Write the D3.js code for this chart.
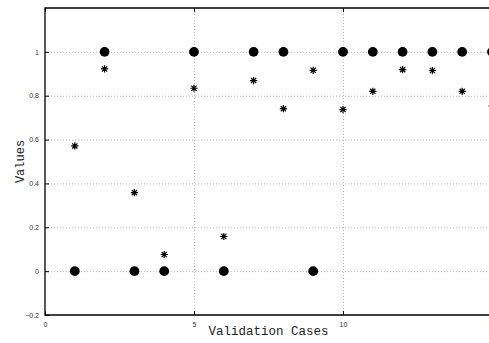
<!DOCTYPE html>
<html>
<head>
<meta charset="utf-8">
<script src="https://cdn.jsdelivr.net/npm/d3@7.9.0/dist/d3.min.js"></script>
<style>
  html, body { margin: 0; padding: 0; background: #fff; overflow: hidden; }
  svg { display: block; }
  .tick text { font-family: "Liberation Sans", Arial, sans-serif; font-size: 7px; fill: #333; }
  .lbl { font-family: "Liberation Mono", "DejaVu Sans Mono", monospace; fill: #222; }
</style>
</head>
<body>
<div id="chart"></div>
<script>
const cases = [1, 2, 3, 4, 5, 6, 7, 8, 9, 10, 11, 12, 13, 14, 15];
const actual = [0, 1, 0, 0, 1, 0, 1, 1, 0, 1, 1, 1, 1, 1, 1];
const predicted = [0.571, 0.922, 0.358, 0.076, 0.834, 0.158, 0.869, 0.741, 0.916, 0.737, 0.82, 0.919, 0.915, 0.82, 0.753];
const xTicks = [0, 5, 10, 15];
const yTicks = [-0.2, 0, 0.2, 0.4, 0.6, 0.8, 1];

const width = 489, height = 343;
const area = { left: 45, right: 492, top: 8, bottom: 315 };

const svg = d3.select('#chart').append('svg')
  .attr('width', width)
  .attr('height', height);

const x = d3.scaleLinear().domain([0, 15]).range([area.left, area.right]);
const y = d3.scaleLinear().domain([-0.2, 1.2]).range([area.bottom, area.top]);

// dotted grid
const grid = svg.append('g').attr('stroke', '#999').attr('stroke-width', 0.7).attr('stroke-dasharray', '1,2');
grid.selectAll('line.gy')
  .data(yTicks.filter(d => d > -0.2))
  .join('line')
  .attr('x1', area.left).attr('x2', area.right)
  .attr('y1', d => y(d) + 0.5).attr('y2', d => y(d) + 0.5);
grid.selectAll('line.gx')
  .data(xTicks.filter(d => d > 0 && d < 15))
  .join('line')
  .attr('x1', d => x(d) + 0.5).attr('x2', d => x(d) + 0.5)
  .attr('y1', area.top).attr('y2', area.bottom);

// axes
const xAxis = d3.axisBottom(x).tickValues(xTicks).tickSize(-4).tickPadding(7).tickFormat(d3.format('d'));
const yAxis = d3.axisLeft(y).tickValues(yTicks).tickSize(-4).tickPadding(6)
  .tickFormat(d => d === 0 ? '0' : d === 1 ? '1' : d3.format('.1f')(d));

const gx = svg.append('g').attr('transform', `translate(0,${area.bottom})`).call(xAxis);
const gy = svg.append('g').attr('transform', `translate(${area.left},0)`).call(yAxis);
[gx, gy].forEach(g => {
  g.select('.domain').remove();
  g.selectAll('.tick line').attr('stroke', '#000').attr('stroke-width', 1);
});

// top ticks
svg.append('g').attr('transform', `translate(0,${area.top})`)
  .call(d3.axisTop(x).tickValues(xTicks).tickSize(-4).tickFormat(''))
  .call(g => g.select('.domain').remove())
  .selectAll('.tick line').attr('stroke', '#000');

// frame
svg.append('path')
  .attr('d', `M${area.right},${area.top}H${area.left}V${area.bottom}H${area.right}`)
  .attr('fill', 'none').attr('stroke', '#000').attr('stroke-width', 1.3);

// actual values (filled circles)
svg.append('g').selectAll('circle')
  .data(cases.map((c, i) => ({ c, v: actual[i] })))
  .join('circle')
  .attr('cx', d => x(d.c))
  .attr('cy', d => y(d.v))
  .attr('r', 4.9)
  .attr('fill', '#000');

// predicted values (asterisks)
const star = 'M-3.6,0H3.6M0,-3.6V3.6M-2.6,-2.6L2.6,2.6M-2.6,2.6L2.6,-2.6';
svg.append('g').selectAll('path')
  .data(cases.map((c, i) => ({ c, v: predicted[i] })))
  .join('path')
  .attr('transform', d => `translate(${x(d.c)},${y(d.v)})`)
  .attr('d', star)
  .attr('stroke', '#000')
  .attr('stroke-width', 1.2)
  .attr('fill', 'none');

// labels
svg.append('text').attr('class', 'lbl')
  .attr('x', (area.left + area.right) / 2).attr('y', 335)
  .attr('text-anchor', 'middle')
  .style('font-size', '12.5px')
  .text('Validation Cases');
svg.append('text').attr('class', 'lbl')
  .attr('transform', `translate(24,${(area.top + area.bottom) / 2}) rotate(-90)`)
  .attr('text-anchor', 'middle')
  .style('font-size', '12px')
  .text('Values');
</script>
</body>
</html>
